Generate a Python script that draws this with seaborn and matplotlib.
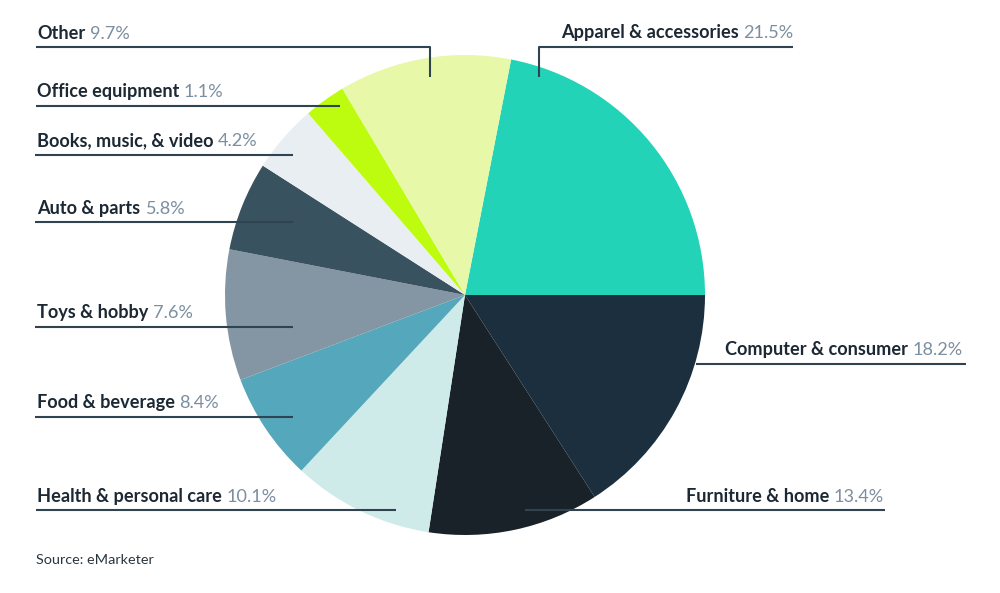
import matplotlib
matplotlib.use("Agg")
import matplotlib.pyplot as plt
import seaborn as sns

# ---- data ----
categories = ["Apparel & accessories", "Computer & consumer", "Furniture & home",
              "Health & personal care", "Food & beverage", "Toys & hobby",
              "Auto & parts", "Books, music, & video", "Office equipment", "Other"]
label_pcts = ["21.5%", "18.2%", "13.4%", "10.1%", "8.4%", "7.6%", "5.8%", "4.2%", "1.1%", "9.7%"]
# slice sizes as drawn in the picture (share of the circle, %)
slice_sizes = [21.9, 15.9, 11.5, 9.5, 7.3, 8.8, 6.0, 4.6, 2.8, 11.6]
colors = ["#22D3B8", "#1B2F3E", "#1A2229", "#CFEBE9", "#55A8BC",
          "#8495A3", "#39525F", "#E8EEF1", "#BDFC0F", "#E8F8A9"]
source = "Source: eMarketer"

# ---- layout (pixel units, y from top) ----
W, H = 1000, 593
center = (465, 295)
radius = 240
# (side, text anchor x, baseline y, line path)
layout = [
    ("right", 793, 38, [(539, 77), (539, 47), (793, 47)]),
    ("right", 963, 355, [(696, 364), (966, 364)]),
    ("right", 884, 502, [(525, 510), (885, 510)]),
    ("left", 37, 502, [(36, 510), (396, 510)]),
    ("left", 37, 408, [(35, 417), (293, 417)]),
    ("left", 37, 318, [(35, 327), (293, 327)]),
    ("left", 37, 214, [(35, 222), (293, 222)]),
    ("left", 37, 146, [(35, 155), (293, 155)]),
    ("left", 37, 97, [(36, 106), (340, 106)]),
    ("left", 37, 39, [(36, 47), (430, 47), (430, 77)]),
]

sns.set_theme(style="white")
plt.rcParams["font.family"] = ["Lato", "DejaVu Sans"]

name_color = "#1C2833"
pct_color = "#7C8FA0"
line_color = "#2F4350"
fs = 13.1

fig = plt.figure(figsize=(W / 100, H / 100), dpi=100)
ax = fig.add_axes([0, 0, 1, 1])

pal = sns.color_palette(colors)
start = 360 * slice_sizes[0] / sum(slice_sizes)
ax.pie(slice_sizes, colors=pal, center=(center[0], H - center[1]), radius=radius,
       startangle=start, counterclock=False,
       wedgeprops=dict(linewidth=0), frame=True)
ax.set_xlim(0, W)
ax.set_ylim(0, H)
ax.set_aspect("equal")
ax.axis("off")

for cat, pct, (side, tx, by, path) in zip(categories, label_pcts, layout):
    xs = [p[0] for p in path]
    ys = [H - p[1] for p in path]
    ax.plot(xs, ys, color=line_color, lw=1.5, solid_capstyle="butt", zorder=5)
    if side == "left":
        t = ax.text(tx, H - by, cat, ha="left", va="baseline", fontsize=fs,
                    fontweight="bold", color=name_color, zorder=6)
        ax.annotate(pct, xy=(1, 0), xycoords=t, xytext=(3.2, 0), textcoords="offset points",
                    ha="left", va="bottom", fontsize=fs, color=pct_color, zorder=6)
    else:
        t = ax.text(tx, H - by, pct, ha="right", va="baseline", fontsize=fs,
                    color=pct_color, zorder=6)
        ax.annotate(cat, xy=(0, 0), xycoords=t, xytext=(-3.2, 0), textcoords="offset points",
                    ha="right", va="bottom", fontsize=fs, fontweight="bold",
                    color=name_color, zorder=6)

ax.text(36, H - 564, source, ha="left", va="baseline", fontsize=10.4, color="#2A3640")

fig.savefig("out.png", dpi=100, facecolor="white")
